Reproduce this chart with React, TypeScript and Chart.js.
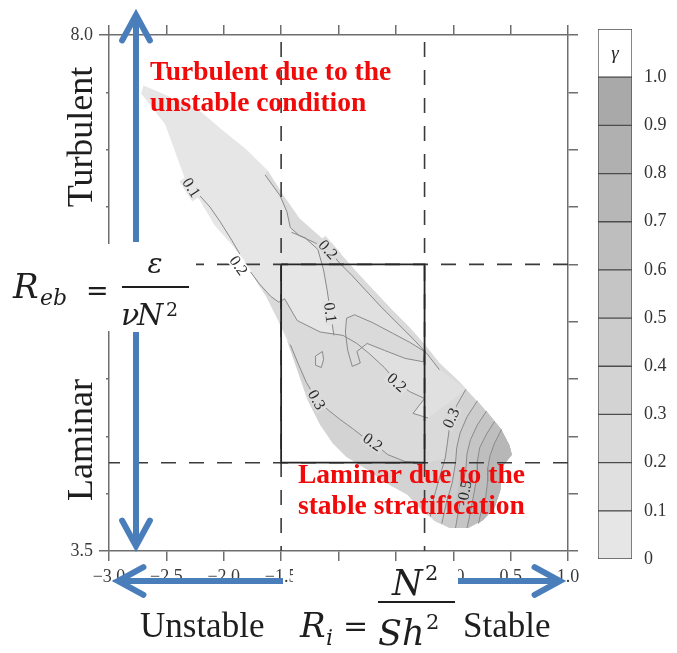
import React, { useEffect, useRef } from 'react';
import { Chart, registerables } from 'chart.js';

Chart.register(...registerables);

type Pt = [number, number];

const SERIF = '"Liberation Serif", "Times New Roman", serif';
const MATH = '"DejaVu Serif", serif';

// Axis extents: Ri along x, Reb along y
const RI_RANGE: Pt = [-3, 1];
const REB_RANGE: Pt = [3.5, 8];
const AXIS_STEP = 0.5;
const REB_LABELLED = [3.5, 8];

// Regime splits (dashed guides) and the solid window they frame
const RI_SPLITS: Pt = [-1.5, -0.25];
const REB_SPLITS: Pt = [4.27, 6.0];

// γ colour key
const GAMMA_STEPS = [0, 0.1, 0.2, 0.3, 0.4, 0.5, 0.6, 0.7, 0.8, 0.9, 1.0];
const GAMMA_SHADES = ['#e6e6e6', '#e0e0e0', '#dadada', '#d3d3d3', '#cccccc', '#c5c5c5', '#bebebe', '#b7b7b7', '#b0b0b0', '#a9a9a9'];
const GAMMA_CAP = 0.1;

// Outline of the sampled (Ri, Reb) region, clockwise from the upper-left tip
const REGION_EDGE: Pt[] = [
  [-2.70, 7.56], [-2.56, 7.50], [-2.38, 7.42], [-2.21, 7.34], [-2.01, 7.17], [-1.80, 7.00],
  [-1.62, 6.82], [-1.48, 6.60], [-1.34, 6.40], [-1.16, 6.24], [-0.99, 6.10], [-0.84, 5.93],
  [-0.70, 5.78], [-0.53, 5.60], [-0.38, 5.45], [-0.25, 5.30], [-0.12, 5.14], [0.06, 4.97],
  [0.26, 4.75], [0.41, 4.57], [0.49, 4.42], [0.51, 4.34], [0.43, 4.24], [0.41, 4.03],
  [0.36, 3.88], [0.26, 3.77], [0.13, 3.70], [-0.03, 3.70], [-0.16, 3.76], [-0.26, 3.84],
  [-0.40, 3.99], [-0.58, 4.09], [-0.75, 4.21], [-0.93, 4.32], [-1.05, 4.44], [-1.16, 4.60],
  [-1.27, 4.82], [-1.36, 5.08], [-1.45, 5.34], [-1.55, 5.56], [-1.63, 5.72], [-1.72, 5.86],
  [-1.81, 6.02], [-1.93, 6.17], [-2.08, 6.34], [-2.21, 6.56], [-2.34, 6.75], [-2.43, 7.00],
  [-2.51, 7.22], [-2.64, 7.39], [-2.72, 7.49],
];

// γ contour lines
const C01_TAIL: Pt[] = [[-2.31, 6.71], [-2.28, 6.67], [-2.21, 6.60], [-2.12, 6.50], [-2.03, 6.37], [-1.93, 6.21], [-1.86, 6.09]];
const C02_LOWER: Pt[] = [
  [-1.83, 6.02], [-1.69, 5.83], [-1.59, 5.72], [-1.52, 5.67], [-1.47, 5.70], [-1.36, 5.51],
  [-1.16, 5.41], [-0.96, 5.38], [-0.84, 5.31], [-0.73, 5.22], [-0.60, 5.10], [-0.49, 4.97],
  [-0.38, 4.89], [-0.25, 4.83], [-0.35, 4.70], [-0.22, 4.66],
];
const C02_UPPER: Pt[] = [
  [-1.64, 6.78], [-1.51, 6.60], [-1.45, 6.46], [-1.42, 6.32], [-1.34, 6.25], [-1.21, 6.19],
  [-1.09, 6.13], [-0.99, 6.01], [-0.88, 5.90], [-0.76, 5.77], [-0.62, 5.62], [-0.48, 5.48],
  [-0.34, 5.34], [-0.22, 5.21], [-0.12, 5.08],
];
const C01_CORE: Pt[] = [[-1.41, 6.28], [-1.29, 6.23], [-1.18, 6.13], [-1.13, 5.95], [-1.10, 5.78], [-1.07, 5.58], [-1.04, 5.38]];
const C03_WEST: Pt[] = [
  [-1.42, 5.30], [-1.35, 5.13], [-1.28, 4.97], [-1.19, 4.82], [-1.09, 4.73], [-0.99, 4.65],
  [-0.88, 4.57], [-0.79, 4.50], [-0.68, 4.43], [-0.57, 4.34], [-0.42, 4.28], [-0.24, 4.27],
];
const C03_EAST: Pt[] = [[0.11, 4.91], [0.03, 4.77], [-0.03, 4.60], [-0.05, 4.45], [-0.07, 4.31], [-0.12, 4.14], [-0.17, 3.96], [-0.20, 3.80]];
const C04: Pt[] = [[0.21, 4.81], [0.12, 4.67], [0.06, 4.53], [0.03, 4.40], [0.02, 4.27], [-0.01, 4.09], [-0.06, 3.92], [-0.10, 3.74]];
const C05: Pt[] = [[0.29, 4.72], [0.21, 4.60], [0.15, 4.47], [0.12, 4.35], [0.11, 4.22], [0.08, 4.05], [0.05, 3.88], [0.02, 3.70]];
const C06: Pt[] = [[0.36, 4.63], [0.29, 4.52], [0.23, 4.40], [0.21, 4.28], [0.21, 4.17], [0.18, 4.00], [0.15, 3.84], [0.12, 3.70]];
const C07: Pt[] = [[0.42, 4.56], [0.36, 4.44], [0.32, 4.33], [0.30, 4.22], [0.30, 4.11], [0.28, 3.95], [0.24, 3.83], [0.22, 3.74]];
const POCKET_EAST: Pt[] = [
  [-0.93, 5.53], [-0.86, 5.56], [-0.70, 5.49], [-0.53, 5.40], [-0.38, 5.32], [-0.25, 5.24],
  [-0.26, 5.15], [-0.42, 5.18], [-0.60, 5.25], [-0.75, 5.31], [-0.84, 5.24], [-0.81, 5.14],
  [-0.88, 5.11], [-0.92, 5.25], [-0.94, 5.41], [-0.93, 5.53],
];
const POCKET_WEST: Pt[] = [[-1.20, 5.20], [-1.14, 5.24], [-1.13, 5.17], [-1.15, 5.10], [-1.20, 5.12], [-1.20, 5.20]];

// Inline contour labels: text, Ri, Reb, angle (deg)
const CONTOUR_LABELS: [string, number, number, number][] = [
  ['0.1', -2.28, 6.67, 57],
  ['0.2', -1.87, 5.99, 55],
  ['0.2', -1.09, 6.13, 48],
  ['0.1', -1.07, 5.58, 82],
  ['0.2', -0.49, 4.97, 42],
  ['0.3', -1.19, 4.82, 60],
  ['0.2', -0.70, 4.45, 35],
  ['0.3', -0.02, 4.66, -65],
  ['0.5', 0.10, 4.03, -80],
];

const rev = (a: Pt[]) => [...a].reverse();

// Filled γ bands (painted bottom to top); band = index into GAMMA_SHADES
const ZONES: { pts: Pt[]; band: number }[] = [
  { pts: REGION_EDGE, band: 0 },
  { pts: [...C01_CORE, ...C02_LOWER.slice(7, 14), C02_LOWER[15], C03_EAST[0], ...rev(C02_UPPER.slice(4))], band: 1 },
  { pts: [...C02_UPPER, C03_EAST[0], ...rev(REGION_EDGE.slice(6, 18))], band: 2 },
  { pts: [...C02_LOWER, ...C03_EAST.slice(0, 5), ...rev(C03_WEST), ...REGION_EDGE.slice(39, 43)], band: 2 },
  { pts: [...C03_WEST, ...C03_EAST.slice(4), ...REGION_EDGE.slice(29, 39)], band: 3 },
  { pts: [...C03_EAST, ...rev(REGION_EDGE.slice(18, 29))], band: 3 },
  { pts: [...C04, ...rev(REGION_EDGE.slice(18, 28))], band: 4 },
  { pts: [...C05, ...rev(REGION_EDGE.slice(19, 27))], band: 5 },
  { pts: [...C06, ...rev(REGION_EDGE.slice(19, 26))], band: 6 },
  { pts: [...C07, ...rev(REGION_EDGE.slice(20, 26))], band: 7 },
  { pts: POCKET_EAST, band: 2 },
  { pts: POCKET_WEST, band: 1 },
];
const CONTOURS: Pt[][] = [C01_TAIL, C02_LOWER, C02_UPPER, C01_CORE, C03_WEST, C03_EAST, C04, C05, C06, C07, POCKET_EAST, POCKET_WEST];

const NOTE_UNSTABLE = ['Turbulent due to the', 'unstable condition'];
const NOTE_STABLE = ['Laminar due to the', 'stable stratification'];

const BLUE = '#4a7ebb';
const FRAME = '#6e6e6e';
const GUIDE = '#3a3a3a';
const CONTOUR = '#8a8a8a';
const NOTE_RED = '#f00a0a';
const INK = '#1e1e1e';

const toXY = (pts: Pt[]) => pts.map(([x, y]) => ({ x, y }));

function shapeSet(pts: Pt[], color: string) {
  return { data: toXY(pts), fill: 'shape', backgroundColor: color, borderColor: 'rgba(0,0,0,0)', borderWidth: 0, pointRadius: 0, xAxisID: 'x', yAxisID: 'y' };
}
function pathSet(pts: Pt[], color: string, width: number, dash: number[] = [], dashOffset = 0) {
  return { data: toXY(pts), fill: false, borderColor: color, borderWidth: width, borderDash: dash, borderDashOffset: dashOffset, pointRadius: 0, xAxisID: 'x', yAxisID: 'y' };
}

const fmtRi = (v: number) => (v < 0 ? '\u2212' : '') + Math.abs(v).toFixed(1);

function put(ctx: CanvasRenderingContext2D, s: string, x: number, y: number, font: string, color = INK, align: CanvasTextAlign = 'left') {
  ctx.font = font;
  ctx.fillStyle = color;
  ctx.textAlign = align;
  ctx.textBaseline = 'alphabetic';
  ctx.fillText(s, x, y);
}

function arrow(ctx: CanvasRenderingContext2D, x0: number, y0: number, x1: number, y1: number) {
  const a = Math.atan2(y1 - y0, x1 - x0);
  const c = Math.cos(a), s = Math.sin(a);
  ctx.save();
  ctx.strokeStyle = BLUE;
  ctx.lineWidth = 6;
  ctx.lineCap = 'butt';
  ctx.beginPath();
  ctx.moveTo(x0, y0);
  ctx.lineTo(x1 - 2 * c, y1 - 2 * s);
  ctx.stroke();
  const len = 29, half = 0.5;
  ctx.lineCap = 'round';
  ctx.lineJoin = 'miter';
  ctx.beginPath();
  ctx.moveTo(x1 - len * Math.cos(a - half), y1 - len * Math.sin(a - half));
  ctx.lineTo(x1, y1);
  ctx.lineTo(x1 - len * Math.cos(a + half), y1 - len * Math.sin(a + half));
  ctx.stroke();
  ctx.restore();
}

function buildMain() {
  const zoneSets = ZONES.map((z) => shapeSet(z.pts, GAMMA_SHADES[z.band]));
  const contourSets = CONTOURS.map((c) => pathSet(c, CONTOUR, 1));
  const guideSets = [
    ...RI_SPLITS.map((x) => pathSet([[x, REB_RANGE[1]], [x, REB_RANGE[0]]], GUIDE, 1.6, [15, 13], 21)),
    ...REB_SPLITS.map((y) => pathSet([[RI_RANGE[0], y], [RI_RANGE[1], y]], GUIDE, 1.6, [15, 13], 4)),
  ];
  const [x0, x1] = RI_SPLITS;
  const [y0, y1] = REB_SPLITS;
  const windowSet = pathSet([[x0, y1], [x1, y1], [x1, y0], [x0, y0], [x0, y1]], '#262626', 1.8);
  const all = [...zoneSets, ...contourSets, ...guideSets, windowSet];
  const datasets = all.map((d, i) => ({ ...d, order: all.length - i }));
  const firstContour = zoneSets.length;
  const labelBg: string[] = [];

  const overlay = {
    id: 'overlay',
    beforeDraw(chart: any) {
      const ctx = chart.ctx;
      ctx.save();
      ctx.fillStyle = '#ffffff';
      ctx.fillRect(0, 0, chart.width, chart.height);
      ctx.restore();
    },
    beforeDatasetDraw(chart: any, args: any) {
      if (args.index !== firstContour) return;
      const ctx = chart.ctx;
      const sx = chart.scales.x, sy = chart.scales.y;
      CONTOUR_LABELS.forEach(([, x, y], i) => {
        const px = Math.round(sx.getPixelForValue(x));
        const py = Math.round(sy.getPixelForValue(y));
        const d = ctx.getImageData(px, py, 1, 1).data;
        labelBg[i] = d[3] < 128 ? '#ffffff' : `rgb(${d[0]},${d[1]},${d[2]})`;
      });
    },
    afterDatasetsDraw(chart: any) {
      const ctx = chart.ctx;
      const sx = chart.scales.x, sy = chart.scales.y;
      CONTOUR_LABELS.forEach(([t, x, y, ang], i) => {
        ctx.save();
        ctx.translate(sx.getPixelForValue(x), sy.getPixelForValue(y));
        ctx.rotate((ang * Math.PI) / 180);
        ctx.font = `16px ${SERIF}`;
        const w = ctx.measureText(t).width;
        ctx.fillStyle = labelBg[i] || '#e6e6e6';
        ctx.fillRect(-w / 2 - 2, -7, w + 4, 14);
        ctx.fillStyle = '#2a2a2a';
        ctx.textAlign = 'center';
        ctx.textBaseline = 'middle';
        ctx.fillText(t, 0, 1);
        ctx.restore();
      });
      const noteFont = `bold 27.5px ${SERIF}`;
      put(ctx, NOTE_UNSTABLE[0], 150, 80, noteFont, NOTE_RED);
      put(ctx, NOTE_UNSTABLE[1], 150, 111, noteFont, NOTE_RED);
      put(ctx, NOTE_STABLE[0], 298, 483, noteFont, NOTE_RED);
      put(ctx, NOTE_STABLE[1], 298, 514, noteFont, NOTE_RED);
    },
    afterDraw(chart: any) {
      const ctx: CanvasRenderingContext2D = chart.ctx;
      ctx.save();
      // direction arrows
      arrow(ctx, 136, 242, 136, 15);
      arrow(ctx, 136, 332, 136, 546);
      arrow(ctx, 283, 581, 118, 581);
      arrow(ctx, 458, 581, 560, 581);
      // text panels
      ctx.fillStyle = '#ffffff';
      ctx.fillRect(0, 44, 106, 200);
      ctx.fillRect(0, 244, 196, 87);
      ctx.fillRect(0, 331, 106, 212);
      ctx.fillRect(293, 561, 165, 92);

      const word = `36px ${SERIF}`;
      ctx.save();
      ctx.translate(92, 137);
      ctx.rotate(-Math.PI / 2);
      put(ctx, 'Turbulent', 0, 0, word, INK, 'center');
      ctx.restore();
      ctx.save();
      ctx.translate(92, 440);
      ctx.rotate(-Math.PI / 2);
      put(ctx, 'Laminar', 0, 0, word, INK, 'center');
      ctx.restore();

      // R_eb = ε / (ν N²)
      put(ctx, 'R', 13, 298, `italic 34px ${MATH}`);
      put(ctx, 'eb', 40, 305, `italic 22px ${MATH}`);
      put(ctx, '=', 86, 300, `27px ${MATH}`);
      ctx.fillStyle = INK;
      ctx.fillRect(122, 286, 67, 2);
      put(ctx, 'ε', 155, 273, `italic 28px ${MATH}`, INK, 'center');
      put(ctx, 'ν', 121, 325, `italic 30px ${MATH}`);
      put(ctx, 'N', 137, 325, `italic 30px ${MATH}`);
      put(ctx, '2', 166, 316, `19px ${MATH}`);

      // R_i = N² / Sh²
      put(ctx, 'Unstable', 140, 637, `35px ${SERIF}`);
      put(ctx, 'Stable', 463, 637, `35px ${SERIF}`);
      put(ctx, 'R', 300, 637, `italic 34px ${MATH}`);
      put(ctx, 'i', 326, 645, `italic 22px ${MATH}`);
      put(ctx, '=', 343, 636, `30px ${MATH}`);
      ctx.fillStyle = INK;
      ctx.fillRect(378, 601, 77, 2);
      put(ctx, 'N', 392, 595, `italic 35px ${MATH}`);
      put(ctx, '2', 425, 580, `21px ${MATH}`);
      put(ctx, 'Sh', 378, 645, `italic 35px ${MATH}`);
      put(ctx, '2', 426, 629, `21px ${MATH}`);
      ctx.restore();
    },
  };

  const frameGrid = { display: true, drawOnChartArea: false, drawTicks: true, tickLength: 10, color: FRAME, lineWidth: 1.5 };
  const frameBorder = { display: true, color: FRAME, width: 1.5 };
  const tickFont = { family: SERIF, size: 18 };

  return {
    type: 'line',
    data: { datasets },
    options: {
      animation: false,
      responsive: false,
      devicePixelRatio: 1,
      events: [],
      layout: { padding: 0 },
      elements: { point: { radius: 0, hoverRadius: 0 }, line: { tension: 0 } },
      plugins: { legend: { display: false }, tooltip: { enabled: false } },
      scales: {
        x: {
          type: 'linear', position: 'bottom', min: RI_RANGE[0], max: RI_RANGE[1],
          grid: frameGrid, border: frameBorder,
          ticks: { stepSize: AXIS_STEP, autoSkip: false, maxRotation: 0, padding: 5, color: '#3a3a3a', font: tickFont, callback: (v: number) => fmtRi(v) },
          afterFit: (s: any) => { s.height = 102; },
        },
        xTop: {
          type: 'linear', position: 'top', min: RI_RANGE[0], max: RI_RANGE[1],
          grid: frameGrid, border: frameBorder,
          ticks: { stepSize: AXIS_STEP, display: false },
          afterFit: (s: any) => { s.height = 35; },
        },
        y: {
          type: 'linear', position: 'left', min: REB_RANGE[0], max: REB_RANGE[1],
          grid: frameGrid, border: frameBorder,
          ticks: { stepSize: AXIS_STEP, autoSkip: false, padding: 6, color: '#3a3a3a', font: tickFont,
            callback: (v: number) => (REB_LABELLED.includes(v) ? v.toFixed(1) : '') },
          afterFit: (s: any) => { s.width = 109; },
        },
        yRight: {
          type: 'linear', position: 'right', min: REB_RANGE[0], max: REB_RANGE[1],
          grid: frameGrid, border: frameBorder,
          ticks: { stepSize: AXIS_STEP, display: false },
          afterFit: (s: any) => { s.width = 109; },
        },
      },
    },
    plugins: [overlay],
  } as any;
}

function buildKey() {
  const cell = { borderColor: '#4d4d4d', borderWidth: 1, borderSkipped: false, barPercentage: 1, categoryPercentage: 1 };
  const datasets = GAMMA_SHADES.map((c, i) => ({ ...cell, data: [GAMMA_STEPS[i + 1] - GAMMA_STEPS[i]], backgroundColor: c }));
  datasets.push({ ...cell, data: [GAMMA_CAP], backgroundColor: '#ffffff' });
  const top = GAMMA_STEPS[GAMMA_STEPS.length - 1];

  const header = {
    id: 'gammaHeader',
    afterDatasetsDraw(chart: any) {
      const meta = chart.getDatasetMeta(datasets.length - 1);
      const el = meta.data[0];
      const ctx = chart.ctx;
      put(ctx, 'γ', el.x, (el.y + el.base) / 2 + 6, `italic 19px ${SERIF}`, '#222', 'center');
    },
  };

  return {
    type: 'bar',
    data: { labels: [''], datasets },
    options: {
      animation: false,
      responsive: false,
      devicePixelRatio: 1,
      events: [],
      layout: { padding: { left: 8, top: 29, bottom: 41, right: 0 } },
      plugins: { legend: { display: false }, tooltip: { enabled: false } },
      scales: {
        x: { display: false, stacked: true },
        y: {
          position: 'right', stacked: true, min: 0, max: top + GAMMA_CAP,
          grid: { display: false, drawTicks: false }, border: { display: false },
          ticks: { stepSize: 0.1, padding: 12, color: '#333', font: { family: SERIF, size: 18 },
            callback: (v: number) => (v > top + 1e-6 ? '' : v === 0 ? '0' : v.toFixed(1)) },
          afterFit: (s: any) => { s.width = 45; },
        },
      },
    },
    plugins: [header],
  } as any;
}

export default function App() {
  const mainRef = useRef<HTMLCanvasElement>(null);
  const keyRef = useRef<HTMLCanvasElement>(null);

  useEffect(() => {
    const main = new Chart(mainRef.current as HTMLCanvasElement, buildMain());
    const key = new Chart(keyRef.current as HTMLCanvasElement, buildKey());
    return () => {
      main.destroy();
      key.destroy();
    };
  }, []);

  return (
    <div style={{ position: 'absolute', left: 0, top: 0, width: 677, height: 653, background: '#ffffff', overflow: 'hidden' }}>
      <canvas ref={mainRef} width={677} height={653} style={{ position: 'absolute', left: 0, top: 0, width: 677, height: 653 }} />
      <canvas ref={keyRef} width={87} height={600} style={{ position: 'absolute', left: 590, top: 0, width: 87, height: 600 }} />
    </div>
  );
}
